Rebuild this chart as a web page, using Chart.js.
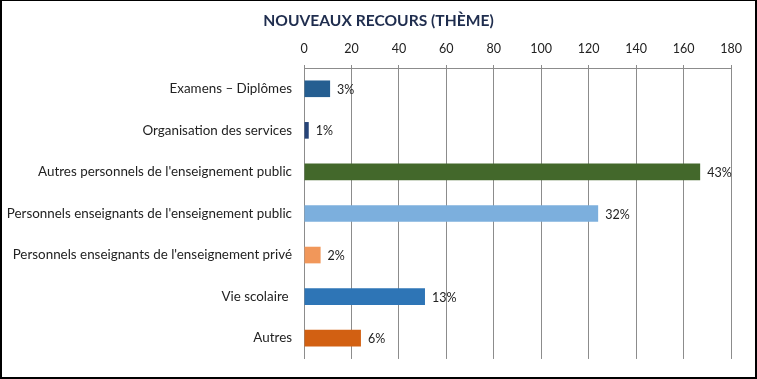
<!DOCTYPE html>
<html>
<head>
<meta charset="utf-8">
<script src="https://cdn.jsdelivr.net/npm/chart.js@4/dist/chart.umd.min.js"></script>
<style>
  html, body { margin: 0; padding: 0; background: #fff; }
  #wrap { position: relative; width: 757px; height: 379px; }
  #frame {
    position: absolute; left: 0; top: 0; width: 757px; height: 379px;
    box-sizing: border-box; border: 2px solid #000; border-top-width: 1px;
    pointer-events: none;
  }
</style>
</head>
<body>
<div id="wrap">
  <canvas id="myChart" width="757" height="379"></canvas>
  <div id="frame"></div>
</div>
<script>
// Themes of new appeals
const chartTitle = "NOUVEAUX RECOURS (THÈME)";
const categories = [
  "Examens – Diplômes",
  "Organisation des services",
  "Autres personnels de l'enseignement public",
  "Personnels enseignants de l'enseignement public",
  "Personnels enseignants de l'enseignement privé",
  "Vie scolaire ",
  "Autres",
];
const counts = [11, 2, 167, 124, 7, 51, 24];
const percentLabels = ["3%", "1%", "43%", "32%", "2%", "13%", "6%"];
const barColors = ["#255e91", "#264478", "#43682b", "#7cafdd", "#f1975a", "#2e75b6", "#d26012"];
const xTicks = [0, 20, 40, 60, 80, 100, 120, 140, 160, 180];

// Draws the percentage next to each bar
const barLabels = {
  id: "barLabels",
  afterDatasetsDraw(chart) {
    const ctx = chart.ctx;
    const meta = chart.getDatasetMeta(0);
    ctx.save();
    ctx.font = "12.5px Lato";
    ctx.fillStyle = "#222";
    ctx.textAlign = "left";
    ctx.textBaseline = "middle";
    meta.data.forEach((bar, i) => {
      ctx.fillText(percentLabels[i], bar.x + 7, bar.y + 1);
    });
    ctx.restore();
  },
};

// Title centred on the whole canvas (built-in one centres on padded box)
const centredTitle = {
  id: "centredTitle",
  afterDraw(chart) {
    const ctx = chart.ctx;
    ctx.save();
    ctx.font = "bold 15.6px Lato";
    ctx.fillStyle = "#1f2d4e";
    ctx.textAlign = "center";
    ctx.textBaseline = "middle";
    ctx.fillText(chartTitle, chart.width / 2, 21);
    ctx.restore();
  },
};

const ctx = document.getElementById("myChart").getContext("2d");

new Chart(ctx, {
  type: "bar",
  data: {
    labels: categories,
    datasets: [
      {
        data: counts,
        backgroundColor: barColors,
        borderWidth: 0,
        barPercentage: 0.4,
        categoryPercentage: 1,
      },
    ],
  },
  options: {
    indexAxis: "y",
    responsive: false,
    animation: false,
    layout: { autoPadding: false, padding: { left: 0, right: 26, top: 34, bottom: 15 } },
    plugins: {
      legend: { display: false },
      tooltip: { enabled: false },
      title: { display: false },
    },
    scales: {
      x: {
        position: "top",
        min: 0,
        max: 180,
        afterBuildTicks: (scale) => {
          scale.ticks = xTicks.map((v) => ({ value: v }));
        },
        afterFit: (scale) => {
          scale.height = 34;
        },
        ticks: {
          color: "#222",
          font: { family: "Lato", size: 12.5 },
          padding: 9,
        },
        grid: { color: "#8c8c8c", tickLength: 3 },
        border: { color: "#8c8c8c" },
      },
      y: {
        afterFit: (scale) => {
          scale.width = 304;
        },
        ticks: {
          color: "#222",
          font: { family: "Lato", size: 13.4 },
          padding: 12,
        },
        grid: { display: false, drawTicks: false, tickLength: 0 },
        border: { color: "#8c8c8c" },
      },
    },
  },
  plugins: [barLabels, centredTitle],
});
</script>
</body>
</html>
